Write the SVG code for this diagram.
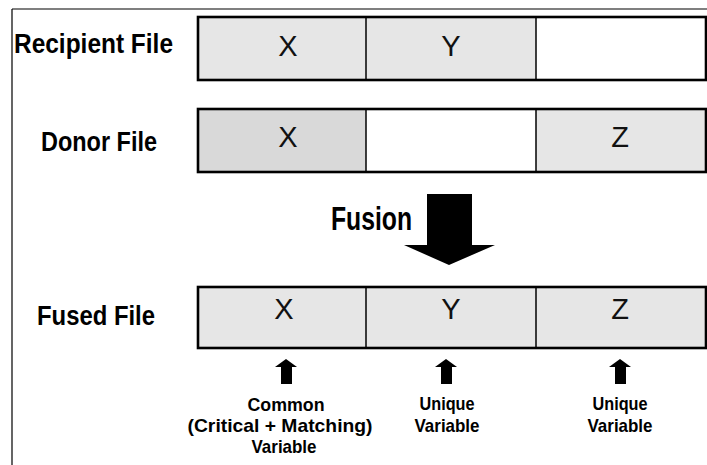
<svg xmlns="http://www.w3.org/2000/svg" width="707" height="465" viewBox="0 0 707 465">
<style>
.lbl{font-family:"Liberation Sans",Arial,sans-serif;font-weight:bold;font-size:27px;fill:#000}
.var{font-family:"Liberation Sans",Arial,sans-serif;font-size:29px;fill:#111;text-anchor:middle}
.note{font-family:"Liberation Sans",Arial,sans-serif;font-weight:bold;font-size:19px;fill:#000;text-anchor:middle}
.outer{fill:none;stroke:#000;stroke-width:2.6}
.div{stroke:#000;stroke-width:1.5}
.sh{fill:#e6e6e6}
.shd{fill:#d9d9d9}
.frame{stroke:#000;stroke-width:1.2;fill:none}
.arr{fill:#000}
</style>
<rect width="707" height="465" fill="#fff"/>
<g id="frame">
<path class="frame" d="M12 9 H707 M12 9 V465"/>
</g>
<g id="recipient">
<text class="lbl" x="14" y="53" textLength="159" lengthAdjust="spacingAndGlyphs">Recipient File</text>
<rect class="sh" x="198" y="17" width="168" height="63"/>
<rect class="sh" x="366" y="17" width="170" height="63"/>
<rect class="outer" x="198" y="17" width="508" height="63"/>
<line class="div" x1="366" y1="17" x2="366" y2="80"/>
<line class="div" x1="536" y1="17" x2="536" y2="80"/>
<text class="var" x="288" y="56">X</text>
<text class="var" x="451" y="56">Y</text>
</g>
<g id="donor">
<text class="lbl" x="41" y="151" textLength="116" lengthAdjust="spacingAndGlyphs">Donor File</text>
<rect class="shd" x="198" y="109" width="168" height="63"/>
<rect class="sh" x="536" y="109" width="170" height="63"/>
<rect class="outer" x="198" y="109" width="508" height="63"/>
<line class="div" x1="366" y1="109" x2="366" y2="172"/>
<line class="div" x1="536" y1="109" x2="536" y2="172"/>
<text class="var" x="288" y="147">X</text>
<text class="var" x="620" y="147">Z</text>
</g>
<g id="fused">
<text class="lbl" x="37" y="325" textLength="118" lengthAdjust="spacingAndGlyphs">Fused File</text>
<rect class="sh" x="198" y="287" width="508" height="61"/>
<rect class="outer" x="198" y="287" width="508" height="61"/>
<line class="div" x1="366" y1="287" x2="366" y2="348"/>
<line class="div" x1="536" y1="287" x2="536" y2="348"/>
<text class="var" x="284" y="319">X</text>
<text class="var" x="451" y="319">Y</text>
<text class="var" x="620" y="319">Z</text>
</g>
<g id="fusion-label">
<text class="lbl" x="331" y="230" style="font-size:33px" textLength="81" lengthAdjust="spacingAndGlyphs">Fusion</text>
</g>
<g id="connectors">
<path class="arr" d="M427 194 H472 V245 H495 L449 265 L404 245 H427 Z"/>
<path class="arr" d="M286 359 L297 367 H292 V384 H281 V367 H275 Z"/>
<path class="arr" d="M446 359 L457 367 H452 V384 H441 V367 H435 Z"/>
<path class="arr" d="M620 359 L631 367 H626 V384 H615 V367 H609 Z"/>
</g>
<g id="note-common">
<text class="note" x="286" y="411" textLength="77" lengthAdjust="spacingAndGlyphs">Common</text>
<text class="note" x="280" y="432" textLength="185" lengthAdjust="spacingAndGlyphs">(Critical + Matching)</text>
<text class="note" x="284" y="453" textLength="65" lengthAdjust="spacingAndGlyphs">Variable</text>
</g>
<g id="note-unique-y">
<text class="note" x="447" y="410" textLength="55" lengthAdjust="spacingAndGlyphs">Unique</text>
<text class="note" x="447" y="432" textLength="65" lengthAdjust="spacingAndGlyphs">Variable</text>
</g>
<g id="note-unique-z">
<text class="note" x="620" y="410" textLength="55" lengthAdjust="spacingAndGlyphs">Unique</text>
<text class="note" x="620" y="432" textLength="65" lengthAdjust="spacingAndGlyphs">Variable</text>
</g>
</svg>
